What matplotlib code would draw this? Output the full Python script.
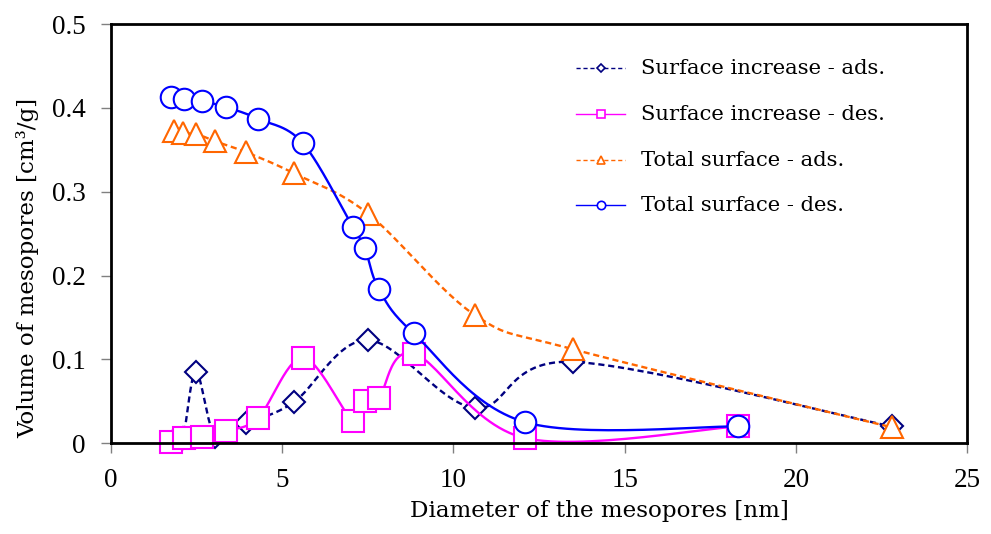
import numpy as np
import matplotlib
matplotlib.use("Agg")
import matplotlib.pyplot as plt
from matplotlib.lines import Line2D

plt.rcParams['font.family'] = ['Liberation Serif', 'DejaVu Serif']
LABEL_FONT = ['DejaVu Serif']

# pore diameters [nm]
d_des = [1.75, 2.13, 2.65, 3.35, 4.29, 5.60, 7.06, 7.41, 7.82, 8.84, 12.1, 18.3]
d_ads = [1.84, 2.10, 2.48, 3.05, 3.95, 5.34, 7.50, 10.62, 13.5, 22.8]

# volumes [cm3/g]
inc_ads = [0.004, 0.006, 0.085, 0.008, 0.024, 0.049, 0.123, 0.042, 0.097, 0.020]
inc_des = [0.002, 0.006, 0.008, 0.015, 0.030, 0.102, 0.027, 0.050, 0.054, 0.107, 0.006, 0.020]
tot_ads = [0.373, 0.370, 0.369, 0.360, 0.347, 0.322, 0.274, 0.153, 0.112, 0.019]
tot_des = [0.413, 0.410, 0.408, 0.401, 0.387, 0.358, 0.258, 0.233, 0.184, 0.131, 0.025, 0.020]

XMAX, YMAX = 25, 0.5


def smooth(x, y, sx, sy, n=30):
    # Bezier smoothing with control points at 1/6 of neighbour span
    p = np.column_stack([np.asarray(x) / sx, np.asarray(y) / sy])
    p = np.vstack([p[0], p, p[-1]])
    out = []
    t = np.linspace(0, 1, n)[:, None]
    for i in range(1, len(p) - 2):
        p0, p1 = p[i], p[i + 1]
        c0 = p0 + (p[i + 1] - p[i - 1]) / 6
        c1 = p1 - (p[i + 2] - p[i]) / 6
        seg = ((1 - t) ** 3 * p0 + 3 * (1 - t) ** 2 * t * c0
               + 3 * (1 - t) * t ** 2 * c1 + t ** 3 * p1)
        out.append(seg if i == 1 else seg[1:])
    out = np.vstack(out)
    return out[:, 0] * sx, out[:, 1] * sy


fig = plt.figure(figsize=(9.91, 5.34), dpi=100)
ax = fig.add_axes([0.112, 0.170, 0.864, 0.785])
ax.set_xlim(0, XMAX)
ax.set_ylim(0, YMAX)

# smoothing is done in screen-like units
sx, sy = XMAX / 857, YMAX / 419

series = [
    (d_ads, inc_ads, '#000080', (0, (2.6, 1.6)), 'D', 10.8, 'Surface increase - ads.'),
    (d_des, inc_des, '#FF00FF', '-', 's', 16, 'Surface increase - des.'),
    (d_ads, tot_ads, '#FF6600', (0, (2.6, 1.6)), '^', 15.5, 'Total surface - ads.'),
    (d_des, tot_des, '#0000FF', '-', 'o', 15.5, 'Total surface - des.'),
]

# legend rows, drawn in axes coordinates
row_y = [0.895, 0.785, 0.675, 0.568]
for k, (x, y, c, ls, m, ms, lab) in enumerate(series):
    xs, ys = smooth(x, y, sx, sy)
    ax.plot(xs, ys, color=c, ls=ls, lw=1.7, zorder=2 + 2 * k, clip_on=False)
    ax.plot(x, y, ls='none', marker=m, ms=ms, mfc='white', mec=c, mew=1.5,
            zorder=3 + 2 * k, clip_on=False)

    lls = ls if ls == '-' else (0, (3, 2))
    ax.add_line(Line2D([0.543, 0.600], [row_y[k]] * 2, transform=ax.transAxes,
                       color=c, ls=lls, lw=1.0, zorder=30))
    ax.add_line(Line2D([0.572], [row_y[k]], transform=ax.transAxes, ls='none',
                       marker=m, ms=6 if m != 'D' else 4.5, mfc='white', mec=c,
                       mew=1.2, zorder=31))
    ax.text(0.619, row_y[k], lab, transform=ax.transAxes, va='center', ha='left',
            fontsize=15.2, family=LABEL_FONT)

for s in ax.spines.values():
    s.set_linewidth(2)
    s.set_zorder(20)

ax.set_xticks(np.arange(0, 26, 5))
ax.set_yticks(np.arange(0, 0.51, 0.1))
ax.set_yticklabels(['0', '0.1', '0.2', '0.3', '0.4', '0.5'])
ax.tick_params(direction='out', length=7, width=1, color='#808080',
               labelsize=19.5, pad=11)

ax.set_xlabel('Diameter of the mesopores [nm]', fontsize=16.6, family=LABEL_FONT,
              va='center')
ax.xaxis.set_label_coords(0.571, -0.162)
ax.set_ylabel('Volume of mesopores [cm³/g]', fontsize=16.6, family=LABEL_FONT,
              va='center', ha='center')
ax.yaxis.set_label_coords(-0.097, 0.418)

fig.savefig('out.png', dpi=100)
